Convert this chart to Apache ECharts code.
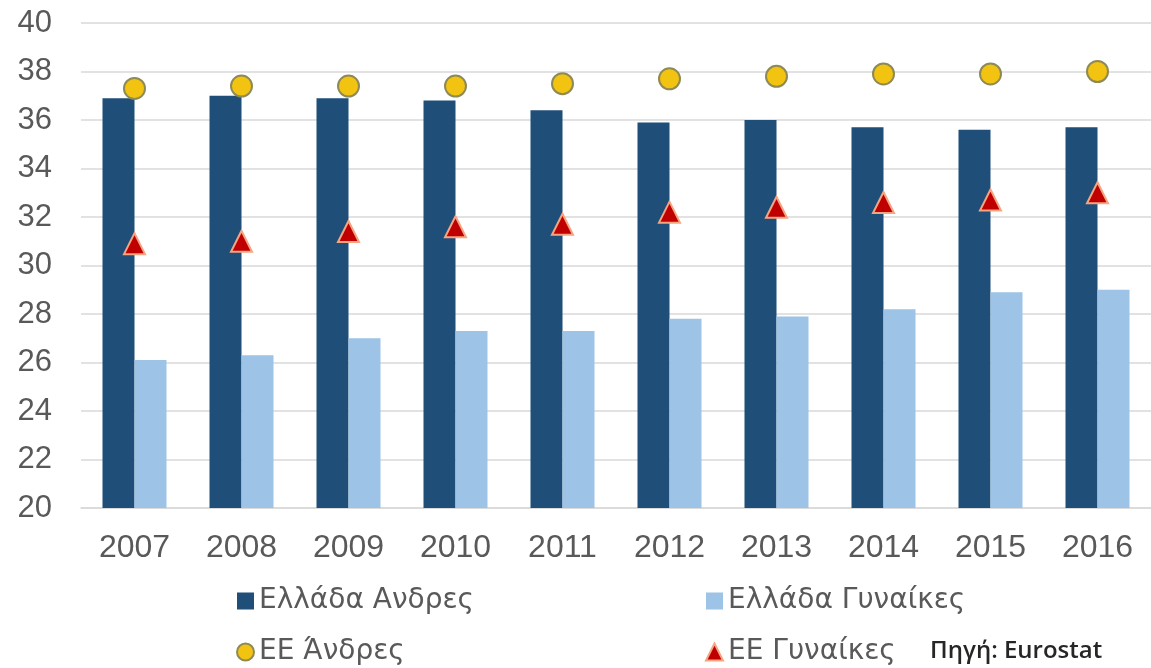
<!DOCTYPE html>
<html>
<head>
<meta charset="utf-8">
<style>
  html, body { margin: 0; padding: 0; background: #ffffff; }
  #chart { width: 1151px; height: 668px; }
</style>
<script src="https://cdn.jsdelivr.net/npm/echarts@6/dist/echarts.min.js"></script>
</head>
<body>
<div id="chart"></div>
<script>
// Years on the category axis
const years = ['2007', '2008', '2009', '2010', '2011', '2012', '2013', '2014', '2015', '2016'];

// Greece, men and women (bars)
const greeceMen   = [36.9, 37.0, 36.9, 36.8, 36.4, 35.9, 36.0, 35.7, 35.6, 35.7];
const greeceWomen = [26.1, 26.3, 27.0, 27.3, 27.3, 27.8, 27.9, 28.2, 28.9, 29.0];

// EU, men and women (markers)
const euMen   = [37.3, 37.4, 37.4, 37.4, 37.5, 37.7, 37.8, 37.9, 37.9, 38.0];
const euWomen = [30.9, 31.0, 31.4, 31.6, 31.7, 32.2, 32.4, 32.6, 32.7, 33.0];

// Series names as shown in the legend
const names = ['Ελλάδα Ανδρες', 'Ελλάδα Γυναίκες', 'ΕΕ Άνδρες', 'ΕΕ Γυναίκες'];
const sourceText = 'Πηγή: Eurostat';

const axisFont = '"Liberation Sans", Arial, sans-serif';
const legendText = {
  fontFamily: '"DejaVu Sans", sans-serif',
  fontSize: 28,
  color: '#595959',
  lineHeight: 30
};

const chart = echarts.init(document.getElementById('chart'), null, { renderer: 'canvas' });

chart.setOption({
  backgroundColor: '#ffffff',
  animation: false,
  grid: { left: 81, top: 23, width: 1078, height: 485, containLabel: false },
  xAxis: {
    type: 'category',
    data: years,
    axisLine: { show: true, lineStyle: { color: '#d9d9d9', width: 1.5 } },
    axisTick: { show: false },
    axisLabel: { color: '#595959', fontFamily: axisFont, fontSize: 32, margin: 24 }
  },
  yAxis: {
    type: 'value',
    min: 20,
    max: 40,
    interval: 2,
    axisLine: { show: false },
    axisTick: { show: false },
    splitLine: { lineStyle: { color: '#d9d9d9', width: 1.5 } },
    axisLabel: { color: '#595959', fontFamily: axisFont, fontSize: 31, margin: 29 }
  },
  legend: [
    {
      orient: 'vertical',
      left: 236,
      top: 586,
      padding: 0,
      itemWidth: 17,
      itemHeight: 17,
      itemGap: 21,
      data: [{ name: names[0], icon: 'rect' }, { name: names[2] }],
      textStyle: legendText
    },
    {
      orient: 'vertical',
      left: 705,
      top: 586,
      padding: 0,
      itemWidth: 17,
      itemHeight: 17,
      itemGap: 21,
      data: [{ name: names[1], icon: 'rect' }, { name: names[3] }],
      textStyle: legendText
    }
  ],
  graphic: [
    {
      type: 'text',
      left: 930,
      top: 639,
      style: {
        text: sourceText,
        fontFamily: '"Open Sans", sans-serif',
        fontWeight: 600,
        fontSize: 24,
        fill: '#262626'
      }
    }
  ],
  series: [
    {
      name: names[0],
      type: 'bar',
      data: greeceMen,
      barWidth: 32,
      barGap: '0%',
      itemStyle: { color: '#1f4e79' }
    },
    {
      name: names[1],
      type: 'bar',
      data: greeceWomen,
      barWidth: 32,
      barGap: '0%',
      itemStyle: { color: '#9dc3e6' }
    },
    {
      name: names[2],
      type: 'scatter',
      data: euMen,
      z: 5,
      symbol: 'circle',
      symbolSize: 21,
      itemStyle: { color: '#f2c311', borderColor: '#8e8a55', borderWidth: 2, opacity: 1 }
    },
    {
      name: names[3],
      type: 'scatter',
      data: euWomen,
      z: 5,
      symbol: 'triangle',
      symbolSize: [21, 21],
      itemStyle: { color: '#c00000', borderColor: '#f4a582', borderWidth: 2, opacity: 1 }
    }
  ]
});
</script>
</body>
</html>
